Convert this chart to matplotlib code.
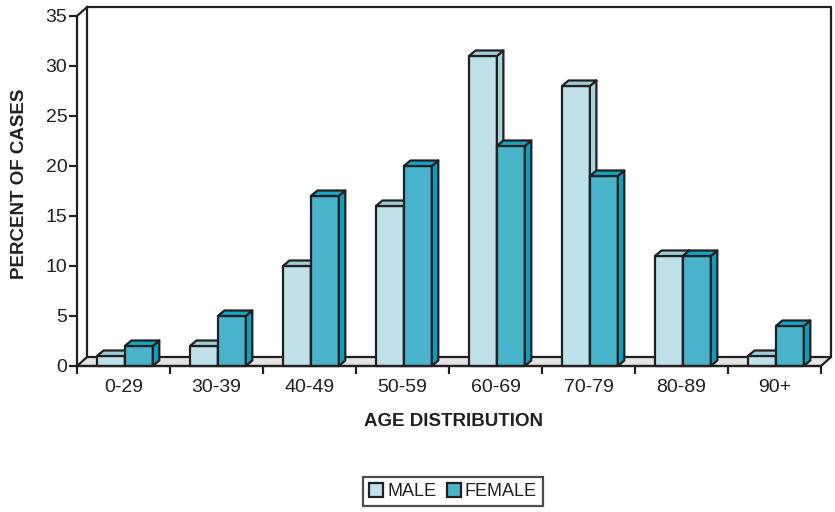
import numpy as np
import matplotlib.pyplot as plt
from matplotlib.patches import Polygon, Patch

# data
age_groups = ["0-29", "30-39", "40-49", "50-59", "60-69", "70-79", "80-89", "90+"]
male = [1, 2, 10, 16, 31, 28, 11, 1]
female = [2, 5, 17, 20, 22, 19, 11, 4]

plt.rcParams['font.family'] = ['Liberation Sans', 'DejaVu Sans']

MALE_C = ("#c0e1e9", "#a6d3de", "#9dcfdb")     # front, side, top
FEMALE_C = ("#48b3ca", "#0b9fbb", "#12a6c2")
EDGE = "#231f20"
LW = 1.6

# wall depth and bar depth (data units)
DX, DY = 0.108, 0.9
BDX, BDY = 0.07, 0.55
BAR_W = 0.30


def bar3d(ax, x0, h, colors):
    front, side, top = colors
    kw = dict(edgecolor=EDGE, linewidth=LW, joinstyle='round', clip_on=False)
    ax.add_patch(Polygon([(x0, 0), (x0 + BAR_W, 0), (x0 + BAR_W, h), (x0, h)],
                         facecolor=front, **kw))
    ax.add_patch(Polygon([(x0 + BAR_W, 0), (x0 + BAR_W + BDX, BDY),
                          (x0 + BAR_W + BDX, h + BDY), (x0 + BAR_W, h)],
                         facecolor=side, **kw))
    ax.add_patch(Polygon([(x0, h), (x0 + BAR_W, h), (x0 + BAR_W + BDX, h + BDY),
                          (x0 + BDX, h + BDY)], facecolor=top, **kw))


fig = plt.figure(figsize=(8.35, 5.12), dpi=100)
n = len(age_groups)
ymax = 36.1
ax = fig.add_axes([77 / 835, 146 / 512, 8.15 * 93 / 835, ymax * 10 / 512])
ax.set_xlim(0, 8.15)
ax.set_ylim(0, ymax)
ax.patch.set_visible(False)

# back walls and floor
line_kw = dict(color=EDGE, linewidth=LW, clip_on=False)
ax.plot([DX, DX, n + DX, n + DX], [DY, 35 + DY, 35 + DY, DY], **line_kw)
ax.plot([0, DX], [35, 35 + DY], **line_kw)
ax.add_patch(Polygon([(0, 0), (n, 0), (n + DX, DY), (DX, DY)],
                     facecolor="#e4e4e4", edgecolor=EDGE, linewidth=LW, clip_on=False))

for i in range(n):
    bar3d(ax, i + 0.215, male[i], MALE_C)
    bar3d(ax, i + 0.215 + BAR_W, female[i], FEMALE_C)

# axes
for s in ['top', 'right']:
    ax.spines[s].set_visible(False)
ax.spines['left'].set_bounds(0, 35)
ax.spines['bottom'].set_bounds(0, n)
for s in ['left', 'bottom']:
    ax.spines[s].set_linewidth(LW)
    ax.spines[s].set_color(EDGE)
    ax.spines[s].set_zorder(5)

ax.set_yticks(np.arange(0, 36, 5))
ax.set_xticks(np.arange(0, n + 1))
ax.set_xticklabels([])
ax.set_xticks(np.arange(n) + 0.5, minor=True)
ax.set_xticklabels(age_groups, minor=True)
ax.tick_params(axis='x', which='major', length=6, width=LW, color=EDGE)
ax.tick_params(axis='x', which='minor', length=0, pad=9, labelsize=14, labelcolor=EDGE)
ax.tick_params(axis='y', length=6, width=LW, color=EDGE, pad=1, labelsize=14,
               labelcolor=EDGE)

fig.text(20 / 835, 1 - 184 / 512, "PERCENT OF CASES", rotation=90, ha='center',
         va='center', fontsize=13.5, fontweight='bold', color=EDGE)
fig.text(453.5 / 835, 1 - 422 / 512, "AGE DISTRIBUTION", ha='center', va='center',
         fontsize=13.5, fontweight='bold', color=EDGE)

handles = [Patch(facecolor=MALE_C[0], edgecolor=EDGE, linewidth=LW, label="MALE"),
           Patch(facecolor=FEMALE_C[0], edgecolor=EDGE, linewidth=LW, label="FEMALE")]
leg = fig.legend(handles=handles, loc='center', bbox_to_anchor=(453 / 835, 1 - 491.5 / 512),
                 ncol=2, frameon=True, fancybox=False, fontsize=13, handlelength=0.8,
                 handleheight=0.8, handletextpad=0.2, columnspacing=0.6,
                 borderpad=0.35, labelcolor=EDGE)
leg.get_frame().set_edgecolor(EDGE)
leg.get_frame().set_linewidth(LW)

fig.savefig("out.png", dpi=100)
